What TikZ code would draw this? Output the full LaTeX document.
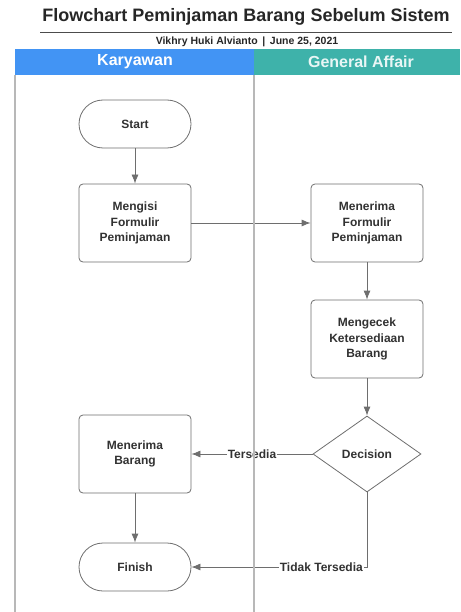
\documentclass[tikz,border=0pt]{standalone}
\usepackage{fontspec}
\setmainfont{Liberation Sans}
\usetikzlibrary{shapes,arrows.meta,positioning,calc}

\definecolor{laneblue}{RGB}{66,148,244}
\definecolor{laneteal}{RGB}{62,178,170}
\definecolor{linegray}{RGB}{110,110,110}
\definecolor{textgray}{RGB}{50,50,50}

\begin{document}
\begin{tikzpicture}[
    x=1pt, y=-1pt,
    process/.style={rectangle, draw=linegray, thick, fill=white, text=textgray, font=\bfseries\fontsize{12}{15.5}\selectfont, text width=100pt, align=center, rounded corners=4pt, minimum width=112pt, minimum height=78pt},
    terminal/.style={rectangle, draw=linegray, thick, fill=white, text=textgray, font=\bfseries\fontsize{12}{15.5}\selectfont, align=center, rounded corners=24pt, minimum width=112pt, minimum height=48pt},
    decision/.style={diamond, draw=linegray, thick, fill=white, text=textgray, font=\bfseries\fontsize{12}{15.5}\selectfont, inner sep=0pt, minimum width=108pt, minimum height=76pt},
    flow/.style={-{Latex[length=9pt, width=7pt]}, draw=linegray, thick},
    flowlabel/.style={fill=white, text=textgray, font=\bfseries\fontsize{12}{14}\selectfont, inner sep=1pt},
    lanehead/.style={text=white, font=\bfseries\fontsize{16}{18}\selectfont}
]
    \useasboundingbox (0,0) rectangle (460,612);

    % Title
    \node[font=\bfseries\fontsize{18}{20}\selectfont, text=black!85] (title) at (246,17) {Flowchart Peminjaman Barang Sebelum Sistem};
    \draw[black!70, thick] (40,32) -- (452,32);
    \node[font=\bfseries\fontsize{10.5}{12}\selectfont, text=black!85] (author) at (247,42) {Vikhry Huki Alvianto \,|\, June 25, 2021};

    % Lanes
    \fill[laneblue] (15,49) rectangle (254,75);
    \fill[laneteal] (254,49) rectangle (460,75);
    \node[lanehead] (karyawan) at (135,62) {Karyawan};
    \node[lanehead, text=white!88!laneteal] (ga) at (361,62) {General Affair};

    % Stages
    \node[terminal] (start) at (135,124) {Start};
    \node[process] (mengisi) at (135,223) {Mengisi\\Formulir\\Peminjaman};
    \node[process] (formulir) at (367,223) {Menerima\\Formulir\\Peminjaman};
    \node[process] (cek) at (367,339) {Mengecek\\Ketersediaan\\Barang};
    \node[decision] (decision) at (367,454) {Decision};
    \node[process] (barang) at (135,454) {Menerima\\Barang};
    \node[terminal] (finish) at (135,567) {Finish};

    % Arrows
    \draw[flow] (start) -- (mengisi);
    \draw[flow] (mengisi) -- (formulir);
    \draw[flow] (formulir) -- (cek);
    \draw[flow] (cek) -- (decision);
    \draw[flow] (decision) -- node[flowlabel] {Tersedia} (barang);
    \draw[flow] (barang) -- (finish);
    \draw[flow] (decision.south) |- node[flowlabel, pos=0.63] {Tidak Tersedia} (finish);

    % Lane lines
    \draw[black!28, line width=1.4pt] (15,75) -- (15,612);
    \draw[black!28, line width=1.4pt] (254,75) -- (254,612);

\end{tikzpicture}
\end{document}
